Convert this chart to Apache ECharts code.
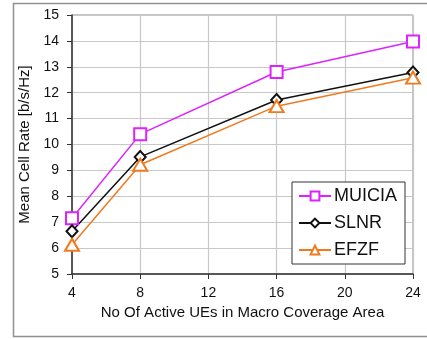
<!DOCTYPE html>
<html><head><meta charset="utf-8">
<script src="https://cdn.jsdelivr.net/npm/echarts@6/dist/echarts.min.js"></script>
<style>html,body{margin:0;padding:0;background:#fff}#c{width:427px;height:339px}</style>
</head><body><div id="c"></div>
<script>
var xValues = [4, 8, 16, 24];
var muicia = [7.15, 10.4, 12.8, 13.98];
var slnr = [6.65, 9.52, 11.72, 12.78];
var efzf = [6.13, 9.22, 11.48, 12.58];
var seriesNames = ['MUICIA', 'SLNR', 'EFZF'];
var xTicks = [4, 8, 12, 16, 20, 24];
var yTicks = [5, 6, 7, 8, 9, 10, 11, 12, 13, 14, 15];

function pairs(ys){ return xValues.map(function(x,i){ return [x, ys[i]]; }); }
var font = 'Liberation Sans, Arial, sans-serif';
var chart = echarts.init(document.getElementById('c'), null, {renderer:'canvas'});
chart.setOption({
  animation:false,
  backgroundColor:'#fff',
  graphic:[{type:'rect', shape:{x:13.5,y:3.5,width:420,height:333}, style:{fill:null, stroke:'#909090', lineWidth:1.5}, z:-1}],
  grid:{left:72, right:14, top:15, bottom:65, show:true, borderColor:'#8a8a8a', borderWidth:1},
  legend:{
    data:seriesNames, orient:'vertical', left:292, top:182, width:113,
    padding:[5,8,5,6], itemGap:9, itemWidth:32, itemHeight:11,
    borderColor:'#333', borderWidth:1, backgroundColor:'#fff',
    textStyle:{fontFamily:font, fontSize:18, color:'#111', padding:[0,0,0,-2]}
  },
  xAxis:{
    type:'value', min:4, max:24, interval:4,
    name:'No Of Active UEs in Macro Coverage Area', nameLocation:'middle', nameGap:30,
    nameTextStyle:{fontFamily:font, fontSize:15, color:'#111'},
    axisLine:{lineStyle:{color:'#333', width:1.5}},
    axisTick:{show:true, length:5, lineStyle:{color:'#333'}},
    axisLabel:{fontFamily:font, fontSize:14, color:'#111', margin:12},
    splitLine:{show:true, lineStyle:{color:'#c8c8c8', width:1.2}}
  },
  yAxis:{
    type:'value', min:5, max:15, interval:1,
    name:'Mean Cell Rate [b/s/Hz]', nameLocation:'middle', nameGap:31,
    nameTextStyle:{fontFamily:font, fontSize:15, color:'#111'},
    axisLine:{show:true, lineStyle:{color:'#333', width:1.5}},
    axisTick:{show:true, length:5, lineStyle:{color:'#333'}},
    axisLabel:{fontFamily:font, fontSize:14, color:'#111', margin:13},
    splitLine:{show:true, lineStyle:{color:'#c8c8c8', width:1.2}}
  },
  series:[
    {name:seriesNames[0], type:'line', data:pairs(muicia), symbol:'emptyRect', symbolSize:12,
     color:'#dd22ff', lineStyle:{color:'#dd22ff', width:1.5}, itemStyle:{color:'#dd22ff', borderColor:'#dd22ff', borderWidth:1.5}},
    {name:seriesNames[1], type:'line', data:pairs(slnr), symbol:'emptyDiamond', symbolSize:[11,12],
     color:'#111', lineStyle:{color:'#111', width:1.5}, itemStyle:{color:'#111', borderColor:'#111', borderWidth:1.5}},
    {name:seriesNames[2], type:'line', data:pairs(efzf), symbol:'emptyTriangle', symbolSize:[14,12],
     color:'#f07a1e', lineStyle:{color:'#f07a1e', width:1.5}, itemStyle:{color:'#f07a1e', borderColor:'#f07a1e', borderWidth:1.5}}
  ]
});
</script></body></html>
